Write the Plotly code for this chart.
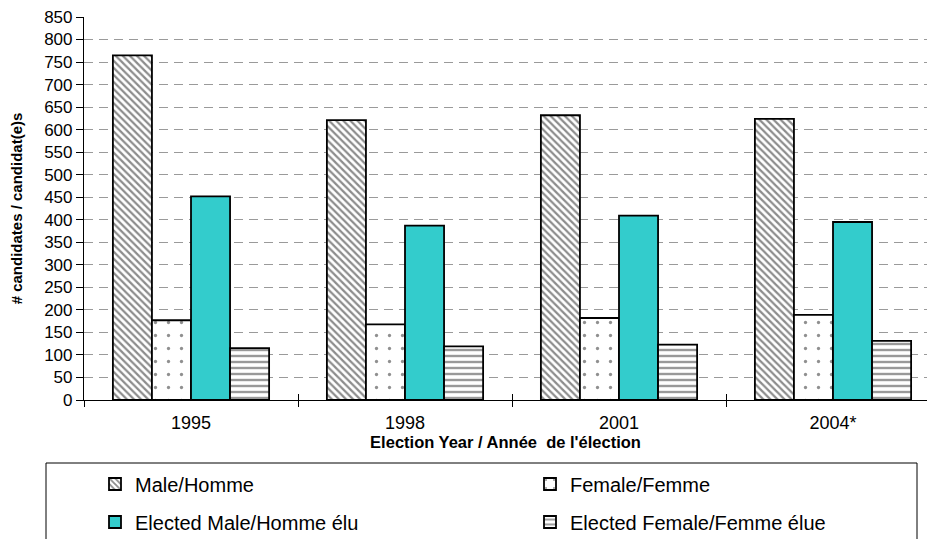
import plotly.graph_objects as go

years = ["1995", "1998", "2001", "2004*"]
male = [765, 621, 632, 624]
female = [177, 168, 182, 189]
elected_male = [452, 387, 409, 395]
elected_female = [115, 119, 123, 131]

y_ticks = list(range(0, 851, 50))

FONT = "Arial, Liberation Sans, sans-serif"
W, H = 927, 539
L, T, B, R = 84, 17, 139, 0

fig = go.Figure()

line = dict(color="black", width=1.8)
fig.add_trace(go.Bar(
    x=years, y=male, name="Male/Homme", legend="legend", legendwidth=390,
    marker=dict(color="white", line=line,
                pattern=dict(shape="\\", fgcolor="#1a1a1a", bgcolor="white", size=5, solidity=0.45)),
))
fig.add_trace(go.Bar(
    x=years, y=female, name="Female/Femme", legend="legend", legendwidth=200,
    marker=dict(color="white", line=line,
                pattern=dict(shape=".", fgcolor="#222222", bgcolor="white", size=13, solidity=0.05)),
))
fig.add_trace(go.Bar(
    x=years, y=elected_male, name="Elected Male/Homme élu", legend="legend2", legendwidth=390,
    marker=dict(color="#33CCCC", line=line),
))
fig.add_trace(go.Bar(
    x=years, y=elected_female, name="Elected Female/Femme élue", legend="legend2", legendwidth=280,
    marker=dict(color="white", line=line,
                pattern=dict(shape="-", fgcolor="#333333", bgcolor="white", size=6, solidity=0.4)),
))
# helper trace so the overlay axis (inner half of the crossing ticks) is drawn
fig.add_trace(go.Scatter(x=years, y=[None] * len(years), xaxis="x2", showlegend=False,
                         hoverinfo="skip", mode="markers"))

pw = W - L - R
ph = H - T - B
xr = [-0.5, 3.5 - (940 - 927) / 214]

def px_to_paper_x(px):
    return (px - L) / pw

def px_to_paper_y(py):
    return (H - B - py) / ph

legend_common = dict(
    orientation="h", xanchor="left", yanchor="middle",
    font=dict(family=FONT, size=20, color="black"),
    bgcolor="rgba(0,0,0,0)", borderwidth=0,
    itemclick=False, itemdoubleclick=False,
)

fig.update_layout(
    width=W, height=H,
    margin=dict(l=L, r=R, t=T, b=B, autoexpand=False),
    paper_bgcolor="white", plot_bgcolor="white",
    font=dict(family=FONT, color="black"),
    barmode="group", bargap=0.27, bargroupgap=0,
    showlegend=True,
    legend=dict(x=px_to_paper_x(95), y=px_to_paper_y(484), **legend_common),
    legend2=dict(x=px_to_paper_x(95), y=px_to_paper_y(522), **legend_common),
    xaxis=dict(
        type="category", range=xr, tickson="boundaries",
        ticks="outside", ticklen=6, tickwidth=1, tickcolor="black",
        showline=True, linecolor="black", linewidth=1.2,
        showgrid=False, zeroline=False,
        tickfont=dict(family=FONT, size=18, color="black"),
        ticklabelstandoff=6,
        title=dict(text="<b>Election Year / Année\u00a0 de l'élection</b>",
                   font=dict(family=FONT, size=16.5, color="black"), standoff=1),
    ),
    xaxis2=dict(
        type="category", range=xr, overlaying="x", anchor="y", side="bottom",
        tickson="boundaries", ticks="inside", ticklen=6, tickwidth=1, tickcolor="black",
        showticklabels=False, showline=False, showgrid=False, zeroline=False,
    ),
    yaxis=dict(
        range=[0, 850], tickvals=y_ticks,
        ticks="outside", ticklen=7, tickwidth=1, tickcolor="black",
        showline=True, linecolor="black", linewidth=1.2,
        showgrid=True, gridcolor="#9a9a9a", gridwidth=1, griddash="9px,6px",
        zeroline=False,
        tickfont=dict(family=FONT, size=17, color="black"),
        title=dict(text="<b># candidates / candidat(e)s</b>",
                   font=dict(family=FONT, size=15, color="black"), standoff=17),
    ),
    shapes=[dict(type="rect", xref="paper", yref="paper",
                 x0=px_to_paper_x(46), x1=px_to_paper_x(917),
                 y0=px_to_paper_y(546), y1=px_to_paper_y(463),
                 line=dict(color="black", width=1), fillcolor="rgba(0,0,0,0)", layer="below")],
)

fig.write_html("out.html", config={"displayModeBar": False},
               post_script="document.body.style.margin='0';document.body.style.overflow='hidden';")
